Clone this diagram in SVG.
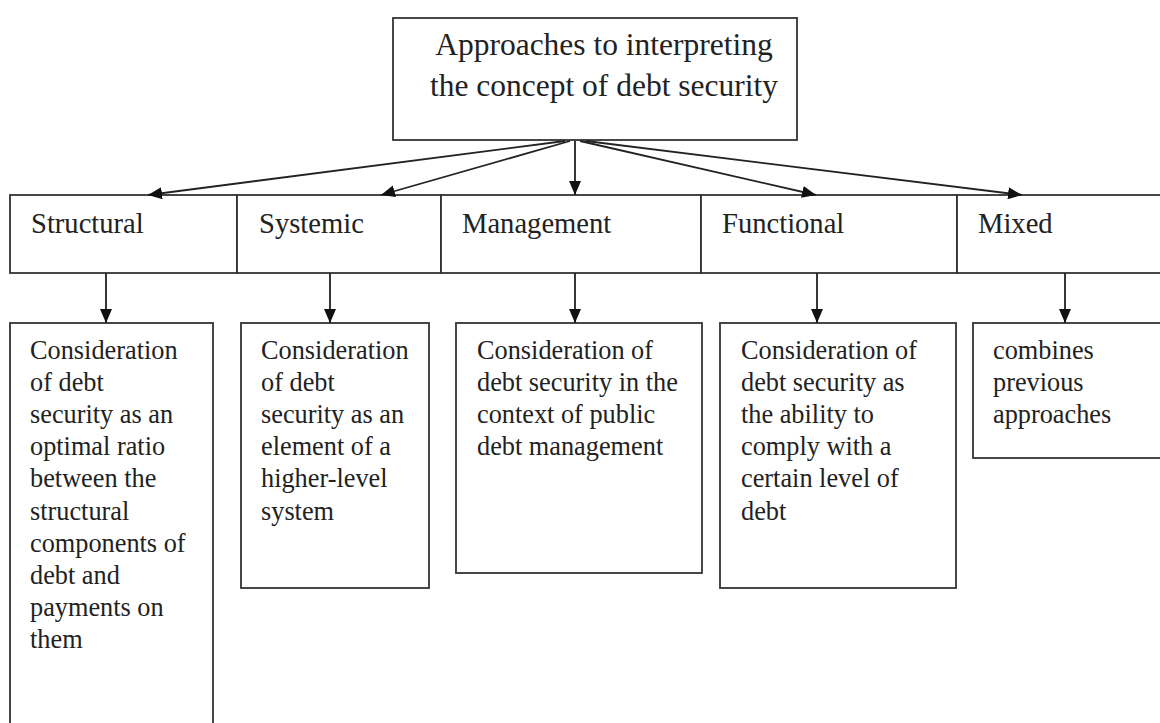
<svg xmlns="http://www.w3.org/2000/svg" width="1160" height="723" viewBox="0 0 1160 723">
  <defs>
    <marker id="arrow" viewBox="0 0 14 12" refX="14" refY="6" markerWidth="14" markerHeight="12" markerUnits="userSpaceOnUse" orient="auto">
      <path d="M0,0 L14,6 L0,12 Z" fill="#111"/>
    </marker>
  </defs>
  <style>
    .box { fill: #fff; stroke: #333; stroke-width: 1.8; }
    .title { font-family: "Liberation Serif", "Times New Roman", serif; font-size: 31.5px; fill: #222; }
    .label { font-family: "Liberation Serif", "Times New Roman", serif; font-size: 28.6px; fill: #222; }
    .body { font-family: "Liberation Serif", "Times New Roman", serif; font-size: 26.3px; fill: #222; }
    .edge { stroke: #222; stroke-width: 1.8; fill: none; marker-end: url(#arrow); }
  </style>
  <rect width="1160" height="723" fill="#fff"/>

  <!-- root -->
  <g id="root">
    <rect class="box" x="393" y="18" width="404" height="122"/>
    <text class="title" x="604" y="55" text-anchor="middle">Approaches to interpreting</text>
    <text class="title" x="604" y="96" text-anchor="middle">the concept of debt security</text>
  </g>

  <!-- approach row -->
  <g id="structural">
    <rect class="box" x="10" y="195" width="227" height="78"/>
    <text class="label" x="31" y="233">Structural</text>
  </g>
  <g id="systemic">
    <rect class="box" x="237" y="195" width="204" height="78"/>
    <text class="label" x="259" y="233">Systemic</text>
  </g>
  <g id="management">
    <rect class="box" x="441" y="195" width="260" height="78"/>
    <text class="label" x="462" y="233">Management</text>
  </g>
  <g id="functional">
    <rect class="box" x="701" y="195" width="256" height="78"/>
    <text class="label" x="722" y="233">Functional</text>
  </g>
  <g id="mixed">
    <rect class="box" x="957" y="195" width="210" height="78"/>
    <text class="label" x="978" y="233">Mixed</text>
  </g>

  <!-- descriptions -->
  <g id="structural-desc">
    <rect class="box" x="10" y="323" width="203" height="420"/>
    <text class="body" x="30" y="359">
      <tspan x="30" dy="0">Consideration</tspan>
      <tspan x="30" dy="32.1">of debt</tspan>
      <tspan x="30" dy="32.1">security as an</tspan>
      <tspan x="30" dy="32.1">optimal ratio</tspan>
      <tspan x="30" dy="32.1">between the</tspan>
      <tspan x="30" dy="32.1">structural</tspan>
      <tspan x="30" dy="32.1">components of</tspan>
      <tspan x="30" dy="32.1">debt and</tspan>
      <tspan x="30" dy="32.1">payments on</tspan>
      <tspan x="30" dy="32.1">them</tspan>
    </text>
  </g>
  <g id="systemic-desc">
    <rect class="box" x="241" y="323" width="188" height="265"/>
    <text class="body" x="261" y="359">
      <tspan x="261" dy="0">Consideration</tspan>
      <tspan x="261" dy="32.1">of debt</tspan>
      <tspan x="261" dy="32.1">security as an</tspan>
      <tspan x="261" dy="32.1">element of a</tspan>
      <tspan x="261" dy="32.1">higher-level</tspan>
      <tspan x="261" dy="32.1">system</tspan>
    </text>
  </g>
  <g id="management-desc">
    <rect class="box" x="456" y="323" width="246" height="250"/>
    <text class="body" x="477" y="359">
      <tspan x="477" dy="0">Consideration of</tspan>
      <tspan x="477" dy="32.1">debt security in the</tspan>
      <tspan x="477" dy="32.1">context of public</tspan>
      <tspan x="477" dy="32.1">debt management</tspan>
    </text>
  </g>
  <g id="functional-desc">
    <rect class="box" x="720" y="323" width="236" height="265"/>
    <text class="body" x="741" y="359">
      <tspan x="741" dy="0">Consideration of</tspan>
      <tspan x="741" dy="32.1">debt security as</tspan>
      <tspan x="741" dy="32.1">the ability to</tspan>
      <tspan x="741" dy="32.1">comply with a</tspan>
      <tspan x="741" dy="32.1">certain level of</tspan>
      <tspan x="741" dy="32.1">debt</tspan>
    </text>
  </g>
  <g id="mixed-desc">
    <rect class="box" x="973" y="323" width="200" height="135"/>
    <text class="body" x="993" y="359">
      <tspan x="993" dy="0">combines</tspan>
      <tspan x="993" dy="32.1">previous</tspan>
      <tspan x="993" dy="32.1">approaches</tspan>
    </text>
  </g>

  <!-- connectors -->
  <g id="connectors">
    <line class="edge" x1="565" y1="141" x2="148" y2="195"/>
    <line class="edge" x1="570" y1="141" x2="381" y2="195"/>
    <line class="edge" x1="575" y1="141" x2="575" y2="195"/>
    <line class="edge" x1="580" y1="141" x2="816" y2="195"/>
    <line class="edge" x1="586" y1="141" x2="1022" y2="195"/>
    <line class="edge" x1="106" y1="273" x2="106" y2="323"/>
    <line class="edge" x1="330" y1="273" x2="330" y2="323"/>
    <line class="edge" x1="575" y1="273" x2="575" y2="323"/>
    <line class="edge" x1="817" y1="273" x2="817" y2="323"/>
    <line class="edge" x1="1065" y1="273" x2="1065" y2="323"/>
  </g>
</svg>
